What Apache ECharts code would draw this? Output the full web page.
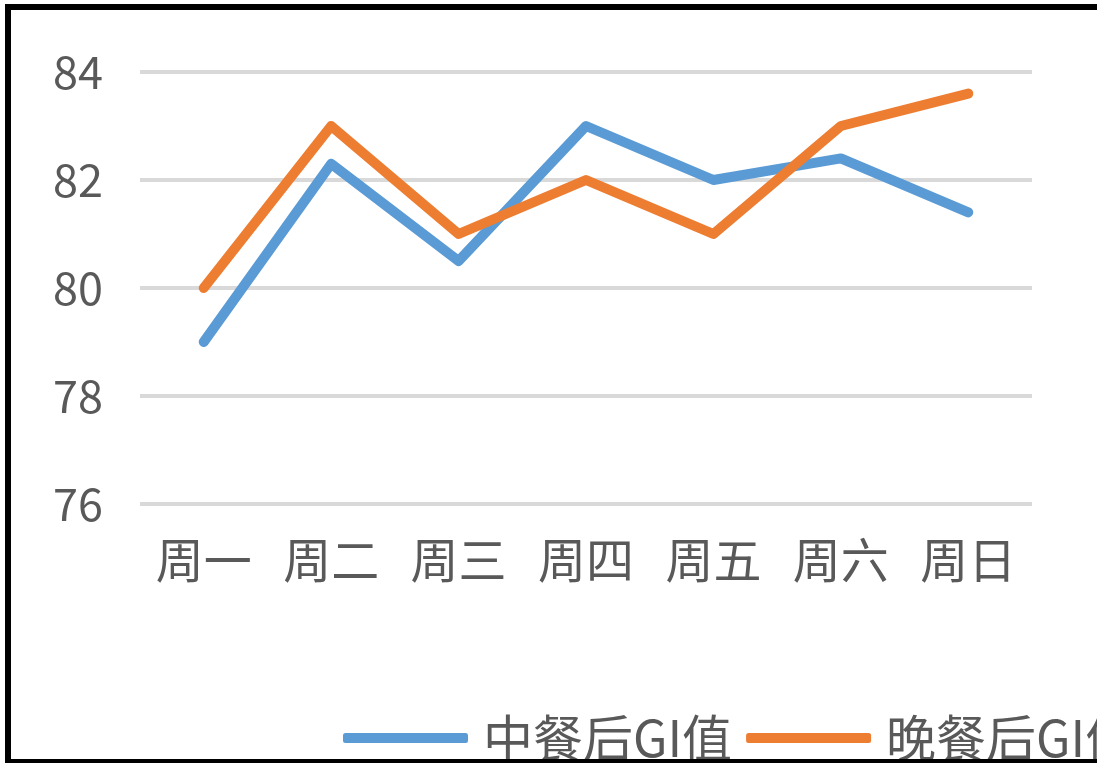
<!DOCTYPE html>
<html>
<head>
<meta charset="utf-8">
<script src="https://cdn.jsdelivr.net/npm/echarts@6/dist/echarts.min.js"></script>
<style>
  html, body { margin: 0; padding: 0; background: #fff; overflow: hidden; }
  #statistics { width: 1097px; height: 764px; }
  #frame {
    position: absolute; left: 5px; top: 4px; width: 1092px; height: 759px;
    box-sizing: border-box; border-top: 6px solid #000; border-left: 6px solid #000;
    border-bottom: 4px solid #000; pointer-events: none;
  }
</style>
</head>
<body>
<div id="statistics"></div>
<div id="frame"></div>
<script>
var days = ['周一', '周二', '周三', '周四', '周五', '周六', '周日'];
var lunchGI = [79.0, 82.3, 80.5, 83.0, 82.0, 82.4, 81.4];
var dinnerGI = [80.0, 83.0, 81.0, 82.0, 81.0, 83.0, 83.6];
var seriesNames = ['中餐后GI值', '晚餐后GI值'];

var myChart = echarts.init(document.getElementById('statistics'));
var font = '"Noto Sans CJK SC", "Noto Sans", sans-serif';

option = {
    animation: false,
    color: ['#5B9BD5', '#ED7D31'],
    grid: {
        left: 140,
        right: 65,
        top: 72,
        bottom: 260
    },
    legend: {
        orient: 'horizontal',
        left: 338,
        top: 708,
        width: 2000,
        icon: 'roundRect',
        itemWidth: 125,
        itemHeight: 10,
        itemGap: 14,
        textStyle: {
            fontFamily: font,
            fontSize: 50,
            color: '#595959',
            padding: [0, 0, 0, 10]
        },
        data: seriesNames
    },
    xAxis: {
        type: 'category',
        data: days,
        axisLine: { show: false },
        axisTick: { show: false },
        axisLabel: {
            interval: 0,
            margin: 32,
            fontFamily: font,
            fontSize: 48,
            color: '#595959'
        }
    },
    yAxis: {
        type: 'value',
        min: 76,
        max: 84,
        interval: 2,
        axisLine: { show: false },
        axisTick: { show: false },
        axisLabel: {
            margin: 37,
            fontFamily: font,
            fontSize: 45,
            color: '#595959'
        },
        splitLine: {
            lineStyle: { color: '#D9D9D9', width: 4 }
        }
    },
    series: [
        {
            name: seriesNames[0],
            type: 'line',
            data: lunchGI,
            symbol: 'none',
            lineStyle: { width: 10, cap: 'round', join: 'round' }
        },
        {
            name: seriesNames[1],
            type: 'line',
            data: dinnerGI,
            symbol: 'none',
            lineStyle: { width: 10, cap: 'round', join: 'round' }
        }
    ]
};

myChart.setOption(option);
</script>
</body>
</html>
